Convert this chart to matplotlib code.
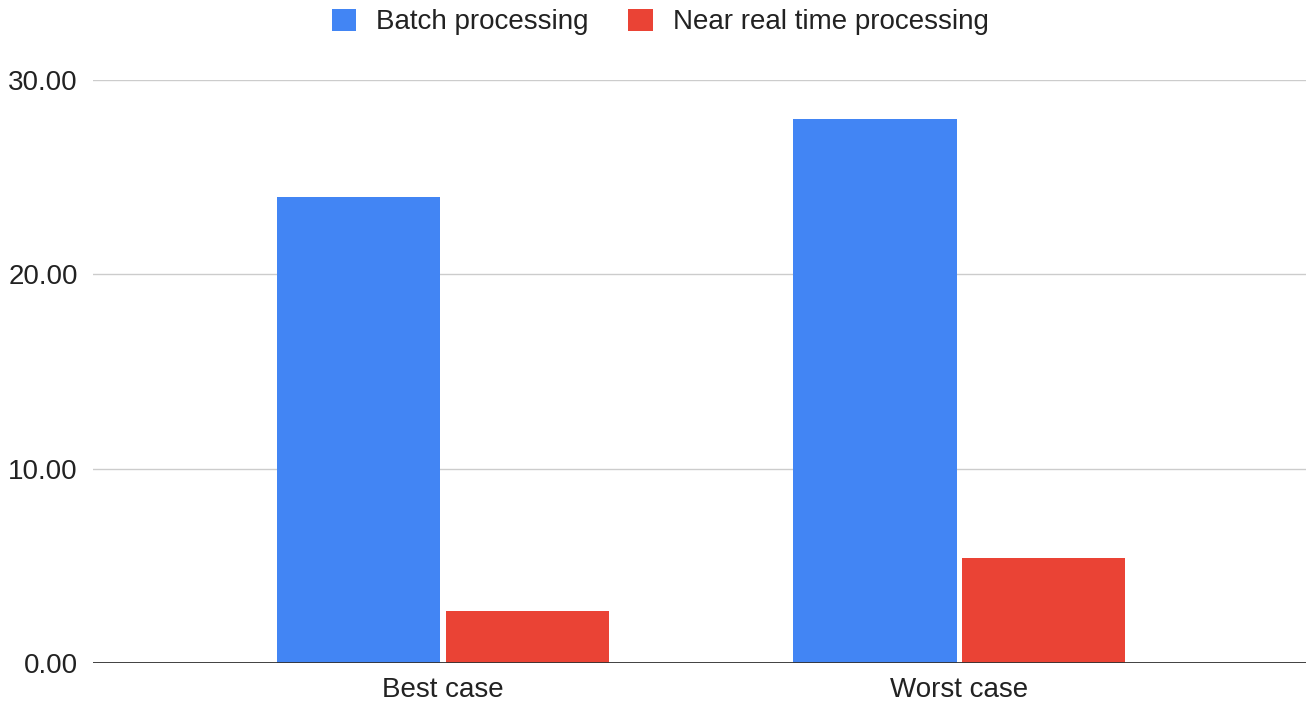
import matplotlib
matplotlib.use("Agg")
import matplotlib.pyplot as plt
import numpy as np

categories = ["Best case", "Worst case"]
batch = [24.0, 28.0]
near_real_time = [2.7, 5.4]
series_names = ["Batch processing", "Near real time processing"]
y_ticks = [0, 10, 20, 30]

plt.rcParams["font.family"] = ["Liberation Sans", "DejaVu Sans"]

W, H = 1306, 704
fig = plt.figure(figsize=(W / 100, H / 100), dpi=100)
ax_left, ax_right = 93, 1306
ax_top, ax_bottom = 80, 663
ax = fig.add_axes([ax_left / W, 1 - ax_bottom / H,
                   (ax_right - ax_left) / W, (ax_bottom - ax_top) / H])

x = np.arange(len(categories))
bw = 0.316
off = 0.163
blue = "#4285F4"
red = "#EA4335"
ax.bar(x - off, batch, width=bw, color=blue, label=series_names[0], zorder=3)
ax.bar(x + off, near_real_time, width=bw, color=red, label=series_names[1], zorder=3)

fs = 20
ax.set_xlim(-0.678, 1.672)
ax.set_ylim(0, 30)
ax.set_yticks(y_ticks)
ax.set_yticklabels([f"{v:.2f}" for v in y_ticks], fontsize=fs, color="#222222")
ax.set_xticks(x)
ax.set_xticklabels(categories, fontsize=fs, color="#222222")
ax.tick_params(axis="both", length=0)
ax.tick_params(axis="y", pad=11)
ax.tick_params(axis="x", pad=10)

ax.grid(axis="y", color="#CCCCCC", linewidth=1, zorder=0)
ax.axhline(0, color="#333333", linewidth=1.3, zorder=4)
for s in ax.spines.values():
    s.set_visible(False)

leg = fig.legend(loc="center", bbox_to_anchor=(660 / W, 1 - 22 / H), ncol=2,
                 frameon=False, fontsize=fs, handlelength=0.87, handleheight=0.87,
                 columnspacing=1.45, handletextpad=0.72)
for t in leg.get_texts():
    t.set_color("#222222")

fig.savefig("out.png", dpi=100)
